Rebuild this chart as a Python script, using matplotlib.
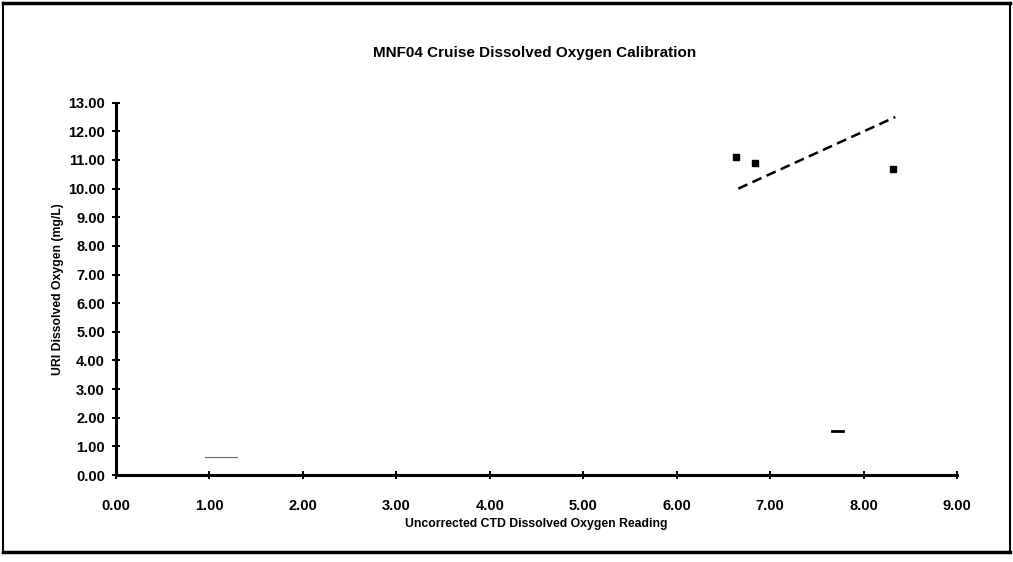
import matplotlib
matplotlib.use("Agg")
import matplotlib.pyplot as plt
from matplotlib.lines import Line2D

# Calibration samples: uncorrected CTD reading vs. URI Winkler value
ctd_reading = [6.64, 6.84, 8.32]
uri_oxygen = [11.11, 10.91, 10.70]

# Calibration line end points
fit_x = [6.66, 8.34]
fit_y = [10.00, 12.50]

x_ticks = [0, 1, 2, 3, 4, 5, 6, 7, 8, 9]
y_ticks = list(range(0, 14))

title = "MNF04 Cruise Dissolved Oxygen Calibration"
x_label = "Uncorrected CTD Dissolved Oxygen Reading"
y_label = "URI Dissolved Oxygen (mg/L)"

plt.rcParams["font.family"] = ["Liberation Sans", "DejaVu Sans"]
plt.rcParams["font.weight"] = "bold"

fig = plt.figure(figsize=(10.13, 5.62), dpi=100)
ax = fig.add_axes([0.1145, 0.1548, 0.8302, 0.6625])

ax.scatter(ctd_reading, uri_oxygen, s=24, marker="s", color="black", zorder=3)
ax.plot(fit_x, fit_y, color="black", linestyle=(0, (4, 2.2)), linewidth=1.8)

# stray marks carried over from the printed page
ax.plot([7.66, 7.78], [1.55, 1.55], color="black", linewidth=2)
ax.plot([0.95, 1.30], [0.62, 0.62], color="black", linewidth=0.8, alpha=0.6)

ax.set_xlim(0, 9)
ax.set_ylim(0, 13)
ax.set_xticks(x_ticks)
ax.set_yticks(y_ticks)
ax.set_xticklabels([f"{v:.2f}" for v in x_ticks], fontsize=10.5, fontweight="bold")
ax.set_yticklabels([f"{v:.2f}" for v in y_ticks], fontsize=10.5, fontweight="bold")
ax.tick_params(direction="inout", length=6, width=1.4, pad=5)
ax.tick_params(axis="x", pad=14)

for side in ("top", "right"):
    ax.spines[side].set_visible(False)
for side in ("left", "bottom"):
    ax.spines[side].set_linewidth(2.2)

ax.set_xlabel(x_label, fontsize=8.8, fontweight="bold", labelpad=4)
ax.set_ylabel(y_label, fontsize=8.8, fontweight="bold", labelpad=3)
fig.text(0.528, 0.905, title, ha="center", va="center", fontsize=11, fontweight="bold")

# page frame around the chart
frame = dict(transform=fig.transFigure, color="black", linewidth=1.5)
fig.add_artist(Line2D([0.003, 0.997], [0.994, 0.994], linewidth=2.5, transform=fig.transFigure, color="black"))
fig.add_artist(Line2D([0.003, 0.997], [0.017, 0.017], linewidth=2.5, transform=fig.transFigure, color="black"))
fig.add_artist(Line2D([0.003, 0.003], [0.017, 0.994], **frame))
fig.add_artist(Line2D([0.997, 0.997], [0.017, 0.994], **frame))

fig.savefig("out.png", dpi=100, facecolor="white")
